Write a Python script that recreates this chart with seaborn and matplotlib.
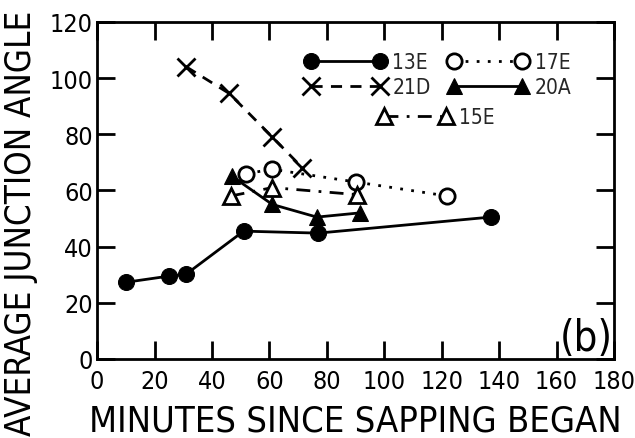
import matplotlib
matplotlib.use("Agg")
import matplotlib.pyplot as plt
from matplotlib import font_manager as fm
import seaborn as sns
import pandas as pd

# ---- data ----
x_13E = [10, 25, 31, 51, 77, 137]
y_13E = [27.3, 29.5, 30.2, 45.5, 44.8, 50.5]

x_21D = [31, 46, 61, 71.5]
y_21D = [104, 94.5, 79, 68]

x_17E = [52, 61, 90, 122]
y_17E = [66, 67.5, 63, 58]

x_20A = [47, 61, 76.5, 91.5]
y_20A = [65, 55, 50.5, 52]

x_15E = [46.5, 61, 90.5]
y_15E = [58, 61, 58.5]

x_ticks = [0, 20, 40, 60, 80, 100, 120, 140, 160, 180]
y_ticks = [0, 20, 40, 60, 80, 100, 120]
x_label = "MINUTES SINCE SAPPING BEGAN"
y_label = "AVERAGE JUNCTION ANGLE"
panel_tag = "(b)"

sns.set_style("ticks")

# look for a narrow / condensed sans face, otherwise DejaVu Sans
cond = None
entries = fm.fontManager.ttflist
pref = ["Liberation Sans Narrow", "DejaVu Sans", "Roboto Condensed",
        "Open Sans Condensed", "Noto Sans", "Roboto", "Open Sans"]
for want in pref:
    for f in entries:
        st = str(f.stretch)
        if f.name == want and f.style == "normal" and (
                "Narrow" in f.name or "Condensed" in f.name or
                st in ("condensed", "semi-condensed")):
            cond = (f.name, st)
            break
    if cond:
        break

if cond:
    plt.rcParams["font.family"] = [cond[0], "DejaVu Sans"]
    plt.rcParams["font.stretch"] = cond[1]
    fs_tick, fs_xl, fs_yl, fs_leg, fs_tag = 18, 26, 25, 15, 30
else:
    plt.rcParams["font.family"] = ["DejaVu Sans"]
    fs_tick, fs_xl, fs_yl, fs_leg, fs_tag = 15, 22.5, 23, 13.5, 27

fig = plt.figure(figsize=(6.35, 4.39), dpi=100)
ax = fig.add_axes([0.153, 0.18, 0.814, 0.768])

series = [
    ("13E", x_13E, y_13E, dict(marker="o", markersize=11.5, markerfacecolor="black",
                               markeredgecolor="black", linestyle="-", linewidth=2)),
    ("21D", x_21D, y_21D, dict(marker="x", markersize=13, markeredgewidth=2,
                               markeredgecolor="black", linestyle=(0, (4, 3)), linewidth=2)),
    ("17E", x_17E, y_17E, dict(marker="o", markersize=11, markerfacecolor="white",
                               markeredgecolor="black", markeredgewidth=2,
                               linestyle=(0, (1, 3)), linewidth=2)),
    ("20A", x_20A, y_20A, dict(marker="^", markersize=12, markerfacecolor="black",
                               markeredgecolor="black", linestyle="-", linewidth=2)),
    ("15E", x_15E, y_15E, dict(marker="^", markersize=11, markerfacecolor="white",
                               markeredgecolor="black", markeredgewidth=2,
                               linestyle=(0, (5, 3, 1, 3)), linewidth=2)),
]

handles = {}
for name, xs, ys, kw in series:
    df = pd.DataFrame({"x": xs, "y": ys})
    n_before = len(ax.lines)
    sns.lineplot(data=df, x="x", y="y", ax=ax, color="black", sort=False,
                 estimator=None, legend=False, **kw)
    line = ax.lines[n_before]
    line.set_label(name)
    handles[name] = line

ax.set_xlim(0, 180)
ax.set_ylim(0, 120)
ax.set_xticks(x_ticks)
ax.set_yticks(y_ticks)
ax.set_xticklabels([str(v) for v in x_ticks], fontsize=fs_tick)
ax.set_yticklabels([str(v) for v in y_ticks], fontsize=fs_tick)
ax.tick_params(direction="in", length=13, width=2, top=True, right=True,
               colors="black")
ax.tick_params(axis="x", pad=7)
ax.tick_params(axis="y", pad=3)
for sp in ax.spines.values():
    sp.set_linewidth(2)
    sp.set_color("black")
    sp.set_visible(True)

ax.set_xlabel(x_label, fontsize=fs_xl, labelpad=8, color="black")
ax.set_ylabel(y_label, fontsize=fs_yl, loc="bottom", color="black")
ax.yaxis.set_label_coords(-0.115, -0.225)

ax.text(0.997, 0.0, panel_tag, transform=ax.transAxes, ha="right", va="bottom",
        fontsize=fs_tag, color="black")

leg1 = ax.legend([handles["13E"], handles["21D"], handles["17E"], handles["20A"]],
                 ["13E", "21D", "17E", "20A"], ncol=2, loc="center",
                 bbox_to_anchor=(0.66, 0.844), frameon=False, fontsize=fs_leg,
                 numpoints=2, handlelength=3.9, handletextpad=0.3,
                 columnspacing=0.8, labelspacing=0.25, borderpad=0)
ax.add_artist(leg1)
ax.legend([handles["15E"]], ["15E"], loc="center", bbox_to_anchor=(0.655, 0.718),
          frameon=False, fontsize=fs_leg, numpoints=2, handlelength=3.6,
          handletextpad=0.3, borderpad=0)

fig.savefig("out.png", dpi=100)
